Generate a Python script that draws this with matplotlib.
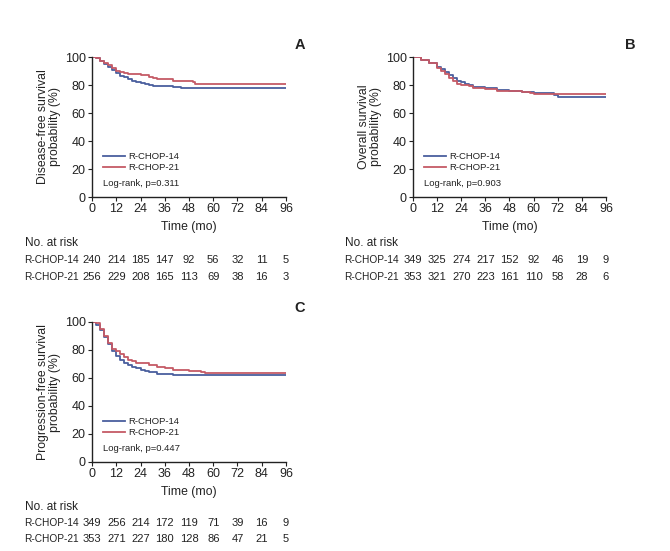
import numpy as np
import matplotlib
matplotlib.use('Agg')
import matplotlib.pyplot as plt
from matplotlib.transforms import blended_transform_factory

plt.rcParams['font.family'] = ['Liberation Sans', 'DejaVu Sans']

# ---- data ----
times_risk = [0, 12, 24, 36, 48, 60, 72, 84, 96]

# A: disease-free survival
dfs_t14 = [0, 2, 4, 6, 8, 10, 12, 14, 16, 18, 20, 22, 24, 26, 28, 30, 36, 40, 44, 96]
dfs_s14 = [100, 99, 97, 95, 93, 90.5, 88.5, 86.5, 85.5, 84.5, 83, 82, 81.5, 80.5, 80, 79.5, 79, 78.5, 78, 78]
dfs_t21 = [0, 2, 4, 6, 8, 10, 12, 14, 16, 18, 22, 24, 28, 30, 32, 36, 40, 48, 50, 51, 96]
dfs_s21 = [100, 99, 97.5, 96, 94, 92, 90, 89, 88.5, 88, 88, 87, 86, 85, 84.5, 84, 83, 83, 82, 80.5, 80.5]
dfs_risk14 = [240, 214, 185, 147, 92, 56, 32, 11, 5]
dfs_risk21 = [256, 229, 208, 165, 113, 69, 38, 16, 3]

# B: overall survival
os_t14 = [0, 4, 8, 12, 14, 16, 18, 20, 22, 24, 26, 28, 30, 36, 42, 48, 54, 60, 66, 70, 72, 96]
os_s14 = [100, 98, 96, 93, 91.5, 89.5, 87, 85, 83, 82, 81, 80, 78.5, 77.5, 76.5, 76, 75, 74, 74, 73, 71.3, 71.3]
os_t21 = [0, 4, 8, 12, 14, 16, 18, 20, 22, 24, 28, 30, 36, 42, 48, 54, 58, 60, 70, 96]
os_s21 = [100, 98, 95.5, 92, 90, 88, 85, 83, 81, 80, 79, 78, 77, 76, 75.5, 75, 74, 73.5, 73.6, 73.6]
os_risk14 = [349, 325, 274, 217, 152, 92, 46, 19, 9]
os_risk21 = [353, 321, 270, 223, 161, 110, 58, 28, 6]

# C: progression-free survival
pfs_t14 = [0, 2, 4, 6, 8, 10, 12, 14, 16, 18, 20, 22, 24, 26, 28, 30, 32, 40, 44, 96]
pfs_s14 = [100, 98, 94, 89, 84, 79, 76, 73, 71, 69, 68, 67, 66, 65, 64.5, 64, 63, 62.5, 62, 62]
pfs_t21 = [0, 2, 4, 6, 8, 10, 12, 14, 16, 18, 20, 22, 24, 28, 32, 36, 40, 44, 48, 54, 56, 96]
pfs_s21 = [100, 99, 95, 90, 85, 81, 79, 77, 75, 73, 72, 71, 70.5, 69, 68, 67, 66, 65.5, 65, 64.5, 63.8, 63.8]
pfs_risk14 = [349, 256, 214, 172, 119, 71, 39, 16, 9]
pfs_risk21 = [353, 271, 227, 180, 128, 86, 47, 21, 5]

pvals = ['0.311', '0.903', '0.447']
ylabels = ['Disease-free survival\nprobability (%)',
           'Overall survival\nprobability (%)',
           'Progression-free survival\nprobability (%)']
letters = ['A', 'B', 'C']

blue = '#4a5f9e'
red = '#c55a66'
ink = '#222222'

W, H = 670, 551
fig = plt.figure(figsize=(6.7, 5.51), dpi=100)


def fx(px):
    return px / W


def fy(py):
    return 1 - py / H


panels = [
    dict(box=(92, 57, 286, 197), rows=(243, 260, 277), xlab=227, letter=(300, 45),
         data=(dfs_t14, dfs_s14, dfs_t21, dfs_s21, dfs_risk14, dfs_risk21), lx=24),
    dict(box=(413, 57, 606, 197), rows=(243, 260, 277), xlab=227, letter=(630, 45),
         data=(os_t14, os_s14, os_t21, os_s21, os_risk14, os_risk21), lx=344),
    dict(box=(92, 322, 286, 462), rows=(507, 523, 539), xlab=492, letter=(300, 308),
         data=(pfs_t14, pfs_s14, pfs_t21, pfs_s21, pfs_risk14, pfs_risk21), lx=24),
]

for i, p in enumerate(panels):
    l, t, r, b = p['box']
    ax = fig.add_axes([fx(l), fy(b), fx(r - l), (b - t) / H])
    t14, s14, t21, s21, r14, r21 = p['data']
    ax.step(t14, s14, where='post', color=blue, lw=1.3)
    ax.step(t21, s21, where='post', color=red, lw=1.3)
    ax.set_xlim(0, 96)
    ax.set_ylim(0, 100)
    ax.set_xticks(times_risk)
    ax.set_yticks([0, 20, 40, 60, 80, 100])
    for s in ['top', 'right']:
        ax.spines[s].set_visible(False)
    for s in ['left', 'bottom']:
        ax.spines[s].set_linewidth(1.0)
        ax.spines[s].set_color(ink)
    ax.tick_params(labelsize=9, length=3, pad=1.5, colors=ink)
    ax.set_ylabel(ylabels[i], fontsize=8.8, labelpad=3, color=ink, linespacing=1.0)
    ax.set_xlabel('Time (mo)', fontsize=8.8, color=ink)
    # label top placed so its centre lands where the reference has it
    ax.xaxis.set_label_coords(0.5, -(p['xlab'] - b - 6) / (b - t))

    # legend drawn by hand
    ax.plot([5.4, 16.3], [29, 29], color=blue, lw=1.3)
    ax.plot([5.4, 16.3], [21.4, 21.4], color=red, lw=1.3)
    ax.text(17.8, 29, 'R-CHOP-14', fontsize=6.8, va='center', color=ink)
    ax.text(17.8, 21.4, 'R-CHOP-21', fontsize=6.8, va='center', color=ink)
    ax.text(5.4, 9.5, 'Log-rank, p=' + pvals[i], fontsize=6.8, va='center', color=ink)

    # panel letter
    fig.text(fx(p['letter'][0]), fy(p['letter'][1]), letters[i], fontsize=10.5,
             fontweight='bold', ha='center', va='center', color=ink)

    # numbers at risk
    y0, y1, y2 = p['rows']
    fig.text(fx(p['lx'] + 1), fy(y0), 'No. at risk', fontsize=8.5, va='center', color=ink)
    fig.text(fx(p['lx']), fy(y1), 'R-CHOP-14', fontsize=7.3, va='center', color=ink)
    fig.text(fx(p['lx']), fy(y2), 'R-CHOP-21', fontsize=7.3, va='center', color=ink)
    tr = blended_transform_factory(ax.transData, fig.transFigure)
    for tt, n14, n21 in zip(times_risk, r14, r21):
        ax.text(tt, fy(y1), str(n14), transform=tr, fontsize=8, ha='center',
                va='center', color=ink, clip_on=False)
        ax.text(tt, fy(y2), str(n21), transform=tr, fontsize=8, ha='center',
                va='center', color=ink, clip_on=False)

fig.savefig('out.png', dpi=100, facecolor='white')
